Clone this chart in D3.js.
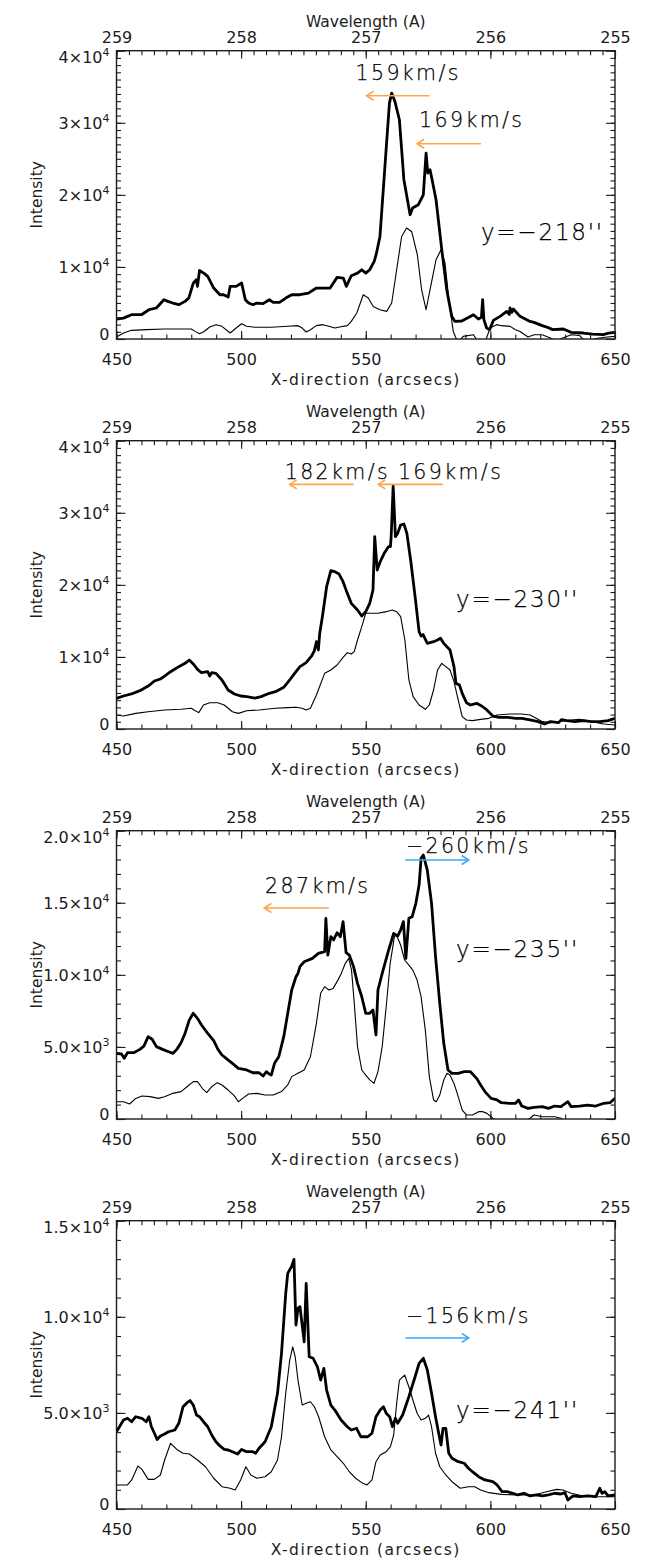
<!DOCTYPE html>
<html>
<head>
<meta charset="utf-8">
<script src="https://cdn.jsdelivr.net/npm/d3@7"></script>
<style>
  body { margin: 0; background: #fff; }
  svg text { font-family: "DejaVu Sans", "Liberation Sans", sans-serif; fill: #1c1c1c; }
  .tick-label { font-size: 16px; }
  .axis-title { font-size: 15.5px; }
  .vel { font-size: 20.5px; letter-spacing: 2.4px; fill: #000; font-weight: 200; stroke: #000; stroke-width: 0.25px; }
  .pos { font-size: 23px; letter-spacing: 1.8px; fill: #000; font-weight: 200; stroke: #000; stroke-width: 0.25px; }
</style>
</head>
<body>
<svg id="chart" width="645" height="1560"></svg>
<script>
// ---- shared axis ticks ----
const xTicks = [450, 500, 550, 600, 650];
const wavelengthTicks = [259, 258, 257, 256, 255];

// ---- slit y = -218" : [arcsec, intensity] ----
const thick218 = [[450,2770],[452.8,2900],[456,3370],[460,3370],[463,4060],[466,4300],[469,5450],[470.6,5220],[472.6,4990],[475,4760],[477.5,5220],[479,5680],[480.8,7760],[482,8220],[482.5,7300],[483.3,9500],[485,9140],[486.6,8680],[489,7070],[491.5,6140],[493,6140],[494.8,5820],[495.6,7300],[498,7300],[500.2,7760],[501.7,5450],[503,4990],[504.7,4760],[506.3,4990],[508.8,4900],[511.3,5450],[512.9,5080],[515.4,5080],[517.9,5680],[520.3,6140],[523.6,6140],[527,6370],[530.2,7070],[532.7,7070],[535.7,7070],[538.5,8550],[541,8450],[542.2,7300],[544.2,8780],[546.7,9140],[548.4,9610],[550,9140],[551.6,9610],[553.4,10760],[554.3,11900],[555.7,14230],[557.7,23940],[559.5,32730],[560.4,34120],[561.7,32960],[563.5,30420],[565.3,22100],[567.8,17240],[568.8,18170],[571.1,18630],[573.1,20010],[574.2,25800],[574.9,23020],[575.8,23480],[576.5,22300],[578.2,19320],[580.5,12390],[582.5,6840],[584.5,3140],[585.8,2440],[588.5,2500],[591,2950],[593.2,3370],[595.2,2770],[596.4,3000],[596.9,5450],[597.4,2680],[598.5,1530],[599.7,1300],[601.2,2580],[603.9,3140],[606.6,3830],[607.6,3400],[607.9,4300],[608.6,3700],[609.2,4160],[611.9,3140],[615.9,2440],[617.5,2310],[620.8,1850],[622.6,1660],[625,1300],[629.3,1390],[632.4,920],[637.3,830],[641,690],[645.3,600],[647.5,830],[650,920]];
const thin218 = [[450,280],[452.8,830],[456,1200],[462,1300],[469.3,1390],[475,1390],[480,1390],[481.6,1060],[483.3,740],[485,1000],[487.4,1660],[489.9,1990],[492.3,1760],[495.6,830],[498,1520],[500.2,2120],[502.2,1760],[505.5,1620],[512.1,1620],[518.7,1760],[522.8,1850],[524.5,1520],[526.1,970],[527.8,1290],[530.2,1850],[532.7,1990],[535.2,1760],[537.6,1520],[540,1700],[542.6,1850],[544.2,2450],[546.4,3600],[549,6140],[551,5690],[553,4520],[555.7,4060],[558.4,3830],[560.4,4990],[562.4,9610],[564.4,14230],[566.4,15400],[568.4,14920],[570.7,11690],[572.4,6840],[574.2,4060],[575.8,6840],[578.2,11000],[580.2,12390],[581.8,10540],[583.5,4990],[585.1,1050],[586.5,-100],[587.5,-300],[589.1,360],[593.2,600],[594.5,-90],[596.5,-510],[598,-300],[599.9,1530],[602.5,1990],[604.4,1850],[607.9,1750],[610.1,1290],[611.9,1050],[615.1,280],[617.5,600],[620.8,600],[624.1,140],[626.6,-320],[629.1,140],[632.4,600],[635.7,500],[638.1,-320],[640,-200],[643,100],[646,250],[650,370]];

// ---- slit y = -230" ----
const thick230 = [[450,4250],[452.8,4580],[456,4860],[459.4,5320],[462.7,5960],[465.2,6660],[467.6,6940],[469.3,7350],[471.7,7950],[475,8650],[477.5,9110],[479.2,9570],[480.8,9020],[482.5,8280],[484.1,7810],[486.6,7950],[487.4,7350],[488.2,7810],[489.9,7720],[492.3,6800],[494.8,5410],[497.3,4860],[499.8,4580],[502.2,4490],[505.5,4300],[508,4490],[511.3,4950],[513.8,5180],[517.1,5780],[519.5,6800],[521.7,7810],[523.6,8650],[526.1,9200],[528.3,10130],[529.4,10870],[530.2,12110],[531,10960],[531.5,13180],[532.7,15810],[534.3,19740],[536,21960],[537.6,21820],[539.3,21500],[540.9,20440],[542.6,18820],[544.2,17430],[546.7,16510],[548.4,15680],[550,16280],[551.6,17430],[552.9,19280],[553.6,26680],[554.6,22060],[555.8,23210],[557.4,24370],[559.1,25290],[559.9,25290],[560.2,26680],[561,33710],[561.9,26680],[562.8,27140],[564,28300],[565.3,28440],[566.5,27140],[568.1,23210],[569.8,18360],[571.4,13500],[572.2,12900],[573,13100],[574.7,11880],[577.2,12110],[578.8,12350],[580,12580],[581.3,11880],[583.8,10960],[585.4,8650],[586.2,6330],[587.6,6100],[588.7,4950],[590.4,3650],[592,3330],[594.5,3560],[596.5,3190],[598.6,2640],[601,1800],[603.5,1620],[606.8,1620],[610.1,1480],[612.6,1480],[615.9,1250],[619.2,1020],[621.7,690],[624.1,1020],[627.4,880],[628.5,1300],[630.7,1160],[634,1020],[637.3,1160],[640.6,1020],[643.9,1020],[647.2,1160],[650,1480]];
const thin230 = [[450,1940],[452.8,1800],[457.7,2170],[462.7,2400],[469.3,2640],[475.9,2730],[480,2870],[481.6,2540],[483,2270],[484.9,3330],[487.4,3650],[490.7,3650],[493.2,3330],[496.5,2400],[498.9,2170],[502.2,2540],[507.2,2640],[513.8,2870],[518.7,2960],[522,3010],[524.5,2870],[526.1,2640],[527.8,2870],[530.2,4720],[533.5,7720],[536,8180],[538.5,8880],[540.9,9940],[542.6,10590],[544.2,10400],[545.4,10730],[546.7,12350],[548.4,14200],[550,16050],[552.5,16050],[554.9,16050],[558.2,16280],[560.7,16510],[562.4,16280],[564,15580],[565.7,12350],[567.3,6800],[569,4490],[571.4,3330],[573.9,2730],[575.5,3330],[577.2,5410],[578.8,8180],[580.5,9110],[582.1,8650],[583.8,8180],[585.4,6570],[587.1,4020],[588.7,1710],[590.4,1250],[592.8,1160],[596.1,1340],[599.4,1480],[602.7,1940],[607.7,2080],[612.6,2080],[615.9,1940],[618.4,1480],[620.9,1020],[624.1,880],[627.4,1020],[632.4,1250],[635.7,1340],[640.6,1020],[645.5,690],[650,550]];

// ---- slit y = -235" ----
const thick235 = [[450,4550],[452,4510],[453.1,4210],[454.4,4600],[456.9,4600],[459.4,4830],[461,5060],[462.7,5710],[464.3,5530],[466,5020],[468.5,4830],[470.9,4670],[472.6,4550],[474.2,4830],[475.9,5290],[477.5,5940],[479.2,6870],[480.8,7330],[482.5,6980],[484.1,6520],[486.6,5940],[489,5430],[490.7,4830],[492.3,4440],[494,4210],[496.5,3860],[498.9,3510],[502.2,3400],[504.7,3210],[507.2,3210],[508.8,2980],[510.1,3280],[511.3,3120],[512.1,3050],[513.4,3860],[515.1,4320],[517.1,5710],[518.7,7330],[520.3,8950],[522,9870],[522.8,10100],[523.6,10570],[525.3,10910],[528.6,11140],[531,11490],[533.5,11610],[534,13920],[534.8,11370],[536,12650],[537.1,12420],[538.5,12920],[539.8,12650],[540.9,13690],[542.1,11540],[543.4,11370],[545.1,10570],[546.7,9410],[548.4,8480],[550,7330],[551.6,7330],[552.9,7560],[554.1,5830],[554.9,8950],[556.6,10100],[559,11610],[561.2,12880],[562.8,12690],[564,13110],[565.1,13690],[566.1,11140],[567.3,13920],[568.6,14030],[570.1,14960],[571.4,16230],[572.2,18080],[573.1,18310],[574.7,17270],[576.4,14960],[578,11260],[579.7,8020],[581.3,5250],[583,3400],[584.6,3170],[587.1,3170],[589.5,3280],[592,3280],[594.5,2820],[596.1,2360],[597.8,1900],[600.3,1430],[602.7,1320],[604.4,1130],[607.7,1090],[610.1,1090],[611.3,1320],[612.6,900],[615.1,740],[617.5,810],[620.8,860],[623.3,740],[625.8,900],[628.3,860],[631.1,1200],[632.4,860],[635.7,900],[639,970],[642.3,900],[645.5,1090],[648,1130],[650,1430]];
const thin235 = [[450,1200],[452.8,1200],[455.3,1040],[457.7,1430],[460.2,1600],[463.5,1550],[466.8,1430],[469.3,1550],[472.6,1780],[475.9,1900],[478.3,2240],[480.8,2590],[482.5,2590],[484.4,2130],[486.2,1830],[488.2,2240],[490.4,2520],[492.3,2360],[494.8,2010],[497.3,1600],[498.9,1200],[500.6,1430],[503,1730],[506.3,1780],[509.6,1660],[512.9,1660],[516.2,1900],[518.7,2360],[520.3,2940],[522.8,3170],[525.3,3400],[527.8,4320],[530.2,6640],[531.9,8720],[533.5,9180],[535.2,8950],[536.9,9060],[538.5,9530],[540.2,10100],[541.8,10800],[543.2,11140],[544.3,10330],[545.4,8020],[546.7,5020],[548.4,3400],[550,3050],[551.6,2710],[553.3,2470],[554.9,3280],[556.6,5020],[558.2,7790],[559.8,10800],[561.5,12650],[562.3,12760],[564,12070],[565.6,11030],[567.3,10680],[568.9,10330],[570.6,9640],[572.2,8490],[573.9,6170],[575.5,2940],[577.2,1320],[578.3,1200],[579.7,1660],[581.3,2710],[582.6,3170],[583.8,3050],[585.4,2470],[587.1,1550],[588.7,620],[590.4,280],[592.8,280],[595.3,510],[597,510],[598.6,390],[601,50],[602.7,-180],[609.3,-400],[615.9,50],[617.5,280],[620.8,160],[625.8,160],[628.3,50],[630.7,-300],[640,-500],[650,-500]];

// ---- slit y = -241" ----
const thick241 = [[450,4020],[451.2,4280],[452.8,4630],[454.4,4720],[456.1,4540],[457.7,4800],[460.2,4720],[461.9,4540],[463,4800],[464,4280],[465.2,3940],[466.3,3620],[467.6,3800],[469.3,3900],[470.9,4020],[473.4,4110],[475,4460],[476.7,5320],[478.3,5530],[479.5,5640],[480.8,5410],[482.1,4890],[483.3,4800],[484.9,4540],[486.6,4280],[488.2,3850],[489.9,3500],[491.5,3280],[493.2,3100],[494.8,3070],[496.5,2980],[498.6,2860],[500.2,3100],[502.2,2980],[504.7,2980],[505.8,2900],[507.2,3160],[509.6,3500],[512.1,4280],[514.6,6020],[516.2,8100],[517.9,11220],[518.7,12260],[520.3,12640],[521.2,12990],[522,9570],[522.8,10440],[523.6,10530],[525.3,8700],[526.1,11740],[527.3,7920],[528.9,7840],[530.6,7400],[531.9,6710],[533.2,7320],[534.3,6190],[536,5410],[537.6,5150],[540.1,4630],[542.6,4280],[544.2,4110],[546.3,4200],[548,3760],[550.8,3760],[552.5,3940],[554.1,4800],[555.8,5150],[557.1,5320],[558.2,4980],[559.6,4800],[560.7,4280],[561.9,4720],[562.8,4460],[564.8,4890],[567.3,5840],[569.8,6880],[571.4,7580],[573.1,7840],[574.7,7230],[576.4,6020],[578,4800],[579.4,3850],[580.2,3330],[581,4200],[582.1,4200],[583.3,2900],[584.6,2640],[587.1,2460],[589.5,2380],[591.2,2120],[592.8,1940],[595.3,1680],[597.8,1510],[601,1420],[602.7,1250],[604.7,900],[606.8,900],[609,820],[611,730],[613.5,820],[615.9,680],[618.4,730],[620.8,680],[623.3,730],[625.8,820],[628.3,780],[629.9,850],[631.1,470],[633.2,680],[635.7,640],[639,680],[642.3,640],[643.9,1080],[644.8,820],[645.9,900],[647.2,680],[650,730]];
const thin241 = [[450,1250],[454.4,1250],[456.1,1510],[458.6,2240],[460.2,2060],[462.7,1540],[465.2,1540],[467.6,1770],[469.3,2550],[471.7,3420],[474.2,3100],[476.7,2900],[479.2,2860],[482.5,2550],[485.7,2200],[489,1600],[492.3,1160],[495.6,1080],[497.6,990],[499.8,1510],[501.9,2200],[503.9,1770],[506.3,1600],[509.6,1680],[512.1,1940],[514.6,2550],[516.2,3760],[517.9,6020],[519.5,7750],[520.7,8440],[521.7,7920],[522.8,6710],[524.5,5410],[526.1,5500],[527.8,5580],[529.4,5320],[531.1,4800],[533.5,3760],[536,3070],[538.5,2720],[541,2380],[543.4,1940],[545.9,1600],[548.4,1370],[550.5,1250],[552.5,1510],[554.1,2460],[555.8,2810],[558.2,2980],[559.9,3240],[561.2,3850],[562.4,5500],[563.5,6710],[565.6,6970],[567.3,6360],[568.9,5670],[570.6,4980],[572.2,4630],[573.9,4720],[575.2,4890],[576.4,4280],[578,2900],[579.7,2200],[582.1,1770],[584.6,1420],[587.9,1080],[591.2,1160],[593.7,1160],[596.1,990],[599.4,850],[604.4,760],[611,730],[617.5,730],[622.5,900],[626.6,1020],[629.1,990],[632.4,820],[637.3,680],[642.3,640],[650,640]];

// ---- y tick values and labels ----
const yTicks4e4 = [0, 10000, 20000, 30000, 40000];
const yLabels4e4 = ["0", "1×10^4", "2×10^4", "3×10^4", "4×10^4"];
const yTicks2e4 = [0, 5000, 10000, 15000, 20000];
const yLabels2e4 = ["0", "5.0×10^3", "1.0×10^4", "1.5×10^4", "2.0×10^4"];
const yTicks15e3 = [0, 5000, 10000, 15000];
const yLabels15e3 = ["0", "5.0×10^3", "1.0×10^4", "1.5×10^4"];

// ---- annotations: [text, arcsec, intensity]; arrows: [tail arcsec, head arcsec, intensity] ----
const vel218 = [["159km/s", 545.9, 35960], ["169km/s", 571.4, 29350]];
const arrows218 = [[575.6, 550.3, 33750], [596.2, 570.6, 27090]];
const vel230 = [["182km/s", 517.5, 34720], ["169km/s", 562.9, 34720]];
const arrows230 = [[545.1, 519.5, 33940], [580.9, 555.0, 33940]];
const vel235 = [["−260km/s", 566.1, 18430], ["287km/s", 509.6, 15700]];
const arrows235 = [[565.9, 591.3, 17970], [535.2, 509.3, 14640]];
const vel241 = [["−156km/s", 566.1, 9660]];
const arrows241 = [[565.9, 591.3, 8900]];
const slitLabels = [["y=−218''", 596.2, 13770], ["y=−230''", 586.2, 16960], ["y=−235''", 586.2, 11260], ["y=−241''", 586.2, 4720]];

const panels = [
  { thick: thick218, thin: thin218, yMax: 40000, ticks: yTicks4e4, labels: yLabels4e4, vel: vel218, arrows: arrows218 },
  { thick: thick230, thin: thin230, yMax: 40000, ticks: yTicks4e4, labels: yLabels4e4, vel: vel230, arrows: arrows230 },
  { thick: thick235, thin: thin235, yMax: 20000, ticks: yTicks2e4, labels: yLabels2e4, vel: vel235, arrows: arrows235 },
  { thick: thick241, thin: thin241, yMax: 15000, ticks: yTicks15e3, labels: yLabels15e3, vel: vel241, arrows: arrows241 }
];

// ---- layout ----
const svg = d3.select("#chart");
const L = 116.5, R = 615, PH = 288.3, TOP0 = 50.7, STEP = 390;
const ORANGE = "#ffa54a", BLUE = "#3aa9f4", INK = "#1c1c1c";

const x = d3.scaleLinear().domain([450, 650]).range([L, R]);
const wl = d3.scaleLinear().domain([259, 255]).range([L, R]);

function clean(g) {
  g.attr("font-size", null).attr("font-family", null).style("color", INK);
  g.select(".domain").remove();
  g.selectAll(".tick line").attr("stroke-width", 1.1);
}

panels.forEach((p, i) => {
  const top = TOP0 + i * STEP, bot = top + PH;
  const y = d3.scaleLinear().domain([0, p.yMax]).range([bot, top]);
  const g = svg.append("g");

  const cid = "plotclip" + i;
  svg.append("clipPath").attr("id", cid)
    .append("rect").attr("x", L).attr("y", top).attr("width", R - L).attr("height", PH);

  const line = d3.line().x(d => x(d[0])).y(d => y(d[1]));
  g.append("path").datum(p.thin).attr("d", line).attr("clip-path", `url(#${cid})`)
    .attr("fill", "none").attr("stroke", "#000").attr("stroke-width", 1.1).attr("stroke-linejoin", "round");
  g.append("path").datum(p.thick).attr("d", line).attr("clip-path", `url(#${cid})`)
    .attr("fill", "none").attr("stroke", "#000").attr("stroke-width", 2.8).attr("stroke-linejoin", "round");

  // bottom axis (arcsec)
  g.append("g").attr("transform", `translate(0,${bot})`)
    .call(d3.axisBottom(x).tickValues(d3.range(450, 651, 10)).tickSize(-4.5).tickFormat("")).call(clean);
  g.append("g").attr("transform", `translate(0,${bot})`)
    .call(d3.axisBottom(x).tickValues(xTicks).tickSize(-8).tickPadding(14.5).tickFormat(d3.format("d")))
    .call(clean).selectAll("text").attr("class", "tick-label");

  // top axis (wavelength)
  g.append("g").attr("transform", `translate(0,${top})`)
    .call(d3.axisTop(wl).tickValues(d3.range(0, 41).map(k => 259 - k * 0.1)).tickSize(-4.5).tickFormat("")).call(clean);
  g.append("g").attr("transform", `translate(0,${top})`)
    .call(d3.axisTop(wl).tickValues(wavelengthTicks).tickSize(-8).tickPadding(8).tickFormat(d3.format("d")))
    .call(clean).selectAll("text").attr("class", "tick-label");

  // left / right axes (intensity)
  const minor = d3.range(0, p.yMax + 1, 1000);
  g.append("g").attr("transform", `translate(${L},0)`)
    .call(d3.axisLeft(y).tickValues(minor).tickSize(-4.5).tickFormat("")).call(clean);
  g.append("g").attr("transform", `translate(${R},0)`)
    .call(d3.axisRight(y).tickValues(minor).tickSize(-4.5).tickFormat("")).call(clean);
  g.append("g").attr("transform", `translate(${R},0)`)
    .call(d3.axisRight(y).tickValues(p.ticks).tickSize(-9).tickFormat("")).call(clean);
  const labelOf = new Map(p.ticks.map((t, k) => [t, p.labels[k]]));
  g.append("g").attr("transform", `translate(${L},0)`)
    .call(d3.axisLeft(y).tickValues(p.ticks).tickSize(-9).tickPadding(7))
    .call(clean)
    .selectAll(".tick text").attr("class", "tick-label")
    .each(function (d) {
      const t = d3.select(this);
      const [m, e] = labelOf.get(d).split("^");
      t.text(null);
      t.attr("dy", d === 0 ? "0" : d === p.yMax ? "12" : "5.5");
      t.append("tspan").text(m);
      if (e) t.append("tspan").attr("dy", -7).attr("font-size", 11).text(e);
    });

  // frame
  g.append("rect").attr("x", L).attr("y", top).attr("width", R - L).attr("height", PH)
    .attr("fill", "none").attr("stroke", INK).attr("stroke-width", 1.4);

  // axis titles
  g.append("text").attr("class", "axis-title").attr("x", (L + R) / 2).attr("y", top - 24)
    .attr("text-anchor", "middle").text("Wavelength (A)");
  g.append("text").attr("class", "axis-title").attr("x", (L + R) / 2).attr("y", bot + 46)
    .attr("text-anchor", "middle").style("letter-spacing", "1.5px").text("X-direction (arcsecs)");
  g.append("text").attr("class", "axis-title")
    .attr("transform", `translate(42,${(top + bot) / 2}) rotate(-90)`)
    .attr("text-anchor", "middle").text("Intensity");

  // velocity arrows
  p.arrows.forEach(([tail, head, v]) => {
    const color = head < tail ? ORANGE : BLUE;
    const hx = x(head), tx = x(tail), yy = y(v), dir = head < tail ? 1 : -1;
    g.append("line").attr("x1", tx).attr("x2", hx).attr("y1", yy).attr("y2", yy)
      .attr("stroke", color).attr("stroke-width", 1.6);
    g.append("path")
      .attr("d", `M${hx + dir * 7},${yy - 4.5}L${hx},${yy}L${hx + dir * 7},${yy + 4.5}`)
      .attr("fill", "none").attr("stroke", color).attr("stroke-width", 1.6);
  });

  p.vel.forEach(([txt, vx, vy]) => {
    g.append("text").attr("class", "vel").attr("x", x(vx)).attr("y", y(vy)).text(txt);
  });

  const [st, sx, sy] = slitLabels[i];
  g.append("text").attr("class", "pos").attr("x", x(sx)).attr("y", y(sy)).text(st);
});
</script>
</body>
</html>
